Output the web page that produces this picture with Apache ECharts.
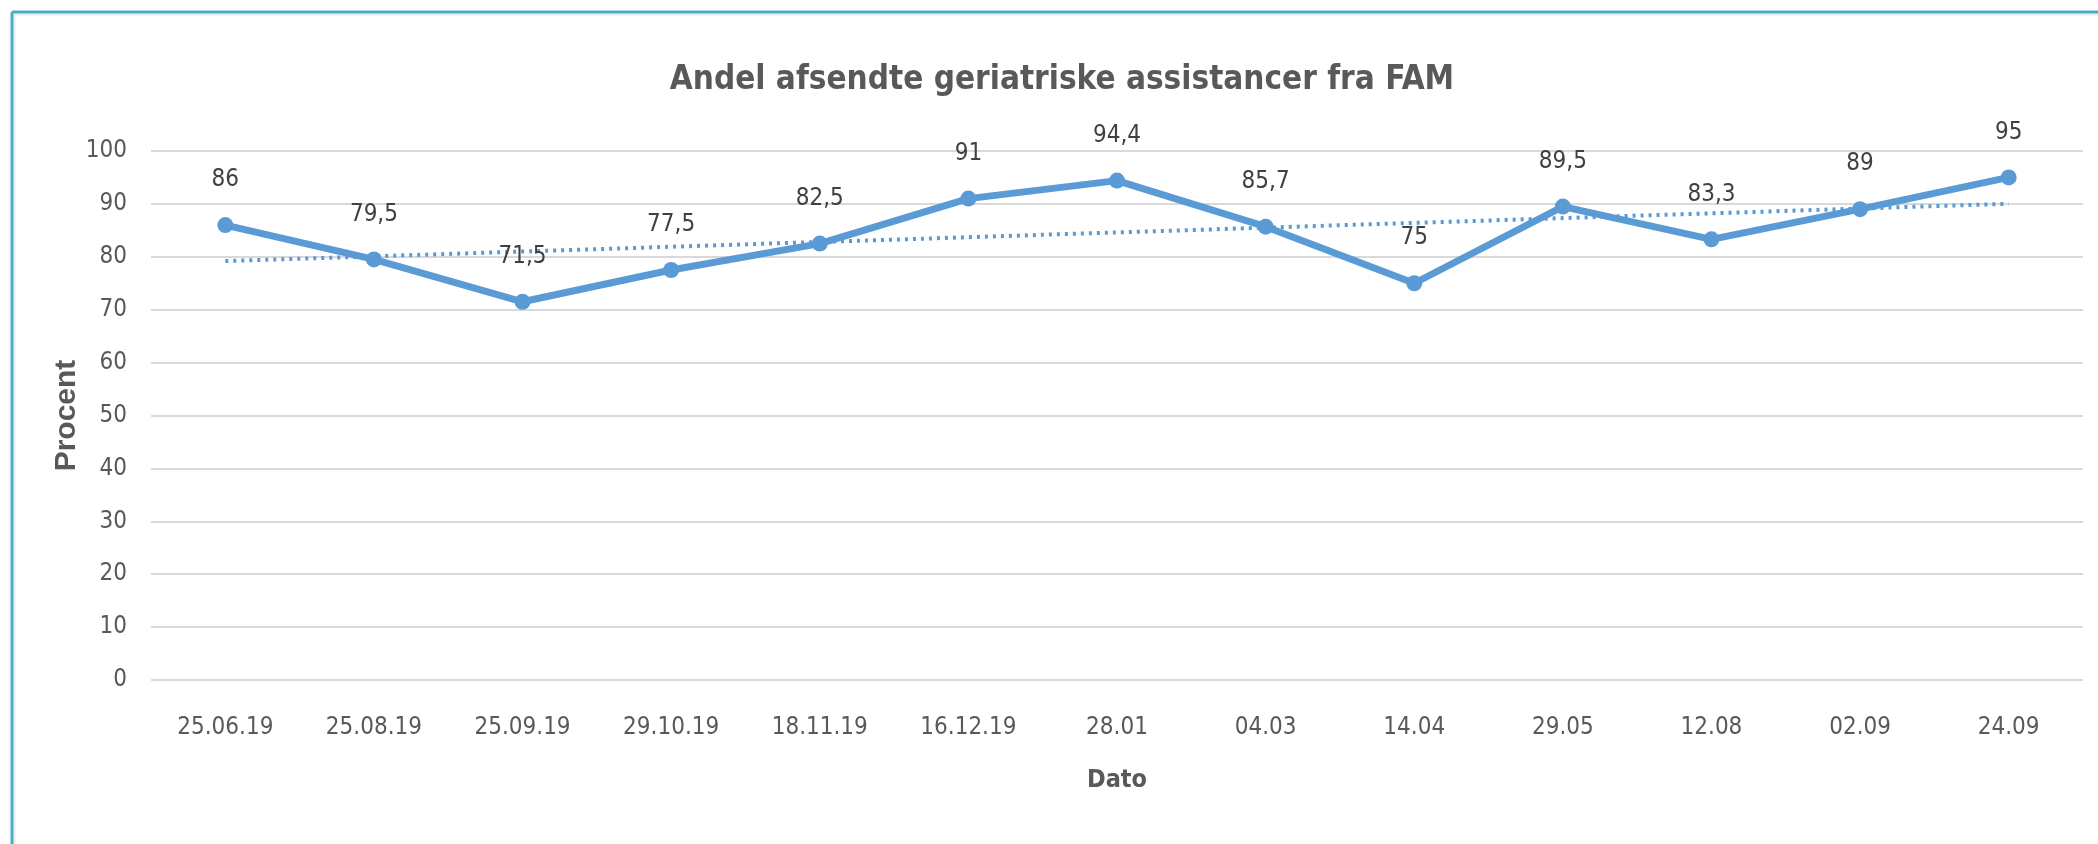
<!DOCTYPE html>
<html>
<head>
<meta charset="utf-8">
<script src="https://cdn.jsdelivr.net/npm/echarts@6/dist/echarts.min.js"></script>
<style>
  html, body { margin: 0; padding: 0; background: #ffffff; }
  #chart { width: 2098px; height: 844px; }
</style>
</head>
<body>
<div id="chart"></div>
<script>
const titleText = 'Andel afsendte geriatriske assistancer fra FAM';
const categories = ['25.06.19', '25.08.19', '25.09.19', '29.10.19', '18.11.19', '16.12.19', '28.01', '04.03', '14.04', '29.05', '12.08', '02.09', '24.09'];
const values = [86, 79.5, 71.5, 77.5, 82.5, 91, 94.4, 85.7, 75, 89.5, 83.3, 89, 95];
const yTicks = [0, 10, 20, 30, 40, 50, 60, 70, 80, 90, 100];
const xAxisTitle = 'Dato';
const yAxisTitle = 'Procent';

// Linear trendline (least squares over category index), as in the source chart
function linearTrend(ys) {
  const n = ys.length;
  let sx = 0, sy = 0, sxx = 0, sxy = 0;
  ys.forEach((y, i) => { sx += i; sy += y; sxx += i * i; sxy += i * y; });
  const slope = (n * sxy - sx * sy) / (n * sxx - sx * sx);
  const intercept = (sy - slope * sx) / n;
  return ys.map((_, i) => +(intercept + slope * i).toFixed(3));
}
const trendValues = linearTrend(values);

const narrow = "'Liberation Sans Narrow', 'DejaVu Sans Condensed', 'Liberation Sans', sans-serif";
const wide = "'Liberation Sans', 'DejaVu Sans', sans-serif";
const blue = '#5B9BD5';

const chart = echarts.init(document.getElementById('chart'));
chart.setOption({
  backgroundColor: '#ffffff',
  animation: false,
  title: {
    text: titleText,
    left: 1062,
    top: 64,
    padding: 0,
    textAlign: 'center',
    textStyle: { fontFamily: narrow, fontSize: 33, fontWeight: 'bold', color: '#595959' }
  },
  graphic: [
    { type: 'line', shape: { x1: 14.5, y1: 14.5, x2: 14.5, y2: 844 }, style: { stroke: '#ececec', lineWidth: 2 }, silent: true },
    { type: 'line', shape: { x1: 14.5, y1: 14.5, x2: 2098, y2: 14.5 }, style: { stroke: '#ececec', lineWidth: 2 }, silent: true },
    { type: 'line', shape: { x1: 12, y1: 12, x2: 12, y2: 844 }, style: { stroke: '#4BACC6', lineWidth: 3 }, silent: true },
    { type: 'line', shape: { x1: 12, y1: 12, x2: 2098, y2: 12 }, style: { stroke: '#4BACC6', lineWidth: 3 }, silent: true }
  ],
  grid: { left: 151, right: 15, top: 151, bottom: 164, containLabel: false },
  xAxis: {
    type: 'category',
    data: categories,
    boundaryGap: true,
    axisLine: { show: false },
    axisTick: { show: false },
    axisLabel: { margin: 36, fontFamily: narrow, fontSize: 24, color: '#595959' },
    name: xAxisTitle,
    nameLocation: 'middle',
    nameGap: 88,
    nameMoveOverlap: false,
    nameTextStyle: { fontFamily: narrow, fontSize: 25, fontWeight: 'bold', color: '#595959' }
  },
  yAxis: {
    type: 'value',
    min: yTicks[0],
    max: yTicks[yTicks.length - 1],
    interval: yTicks[1] - yTicks[0],
    axisLine: { show: false },
    axisTick: { show: false },
    splitLine: { lineStyle: { color: '#d9d9d9', width: 2 } },
    axisLabel: { margin: 24, fontFamily: narrow, fontSize: 24, color: '#595959' },
    name: yAxisTitle,
    nameLocation: 'middle',
    nameRotate: 90,
    nameGap: 69,
    nameMoveOverlap: false,
    nameTextStyle: { fontFamily: wide, fontSize: 30, fontWeight: 'bold', color: '#595959' }
  },
  series: [
    {
      name: 'Trend',
      type: 'line',
      data: trendValues,
      symbol: 'none',
      silent: true,
      z: 1,
      lineStyle: { color: blue, width: 4, type: [3, 5] }
    },
    {
      name: 'Andel',
      type: 'line',
      data: values,
      symbol: 'circle',
      symbolSize: 16,
      z: 3,
      itemStyle: { color: blue },
      lineStyle: { color: blue, width: 7 },
      label: {
        show: true,
        position: 'top',
        distance: 25,
        fontFamily: narrow,
        fontSize: 24,
        color: '#404040',
        formatter: p => String(p.value).replace('.', ',')
      }
    }
  ]
});
</script>
</body>
</html>
